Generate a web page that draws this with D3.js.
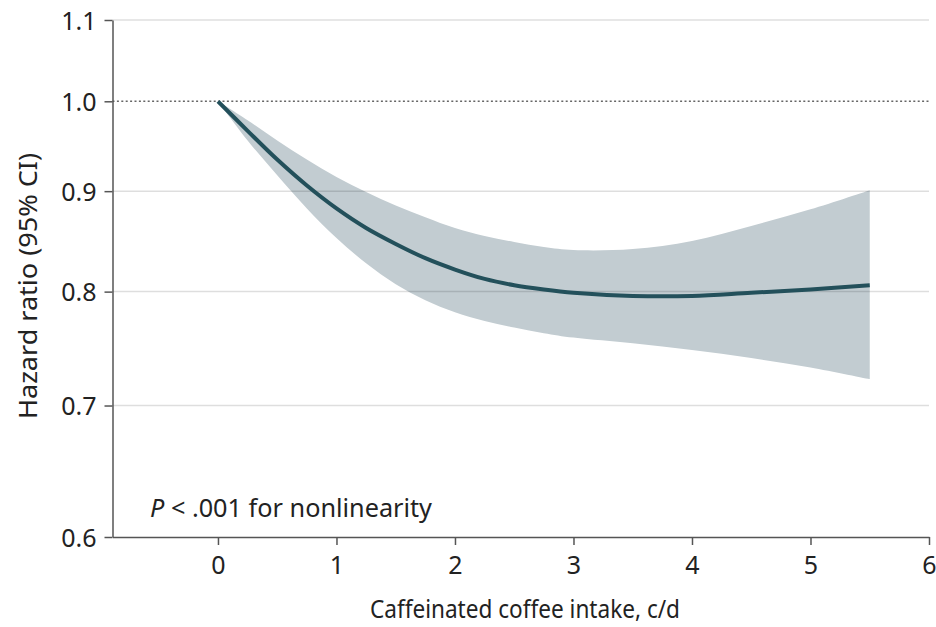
<!DOCTYPE html>
<html>
<head>
  <style>
    body { margin: 0; background: #fff; font-family: "Noto Sans", sans-serif; }
  </style>
</head>
<body>
  <svg id="chart"></svg>

  <script src="https://d3js.org/d3.v7.min.js"></script>
  <script>
    // coffee intake (cups per day) and the spline estimate with its 95% CI
    const intake = [0, 0.25, 0.5, 0.75, 1, 1.25, 1.5, 1.75, 2, 2.25, 2.5, 2.75, 3, 3.5, 4, 4.5, 5, 5.5];
    const hazard = [1.0, 0.966, 0.934, 0.906, 0.882, 0.862, 0.846, 0.832, 0.821, 0.812, 0.806, 0.802, 0.799, 0.796, 0.796, 0.799, 0.802, 0.806];
    const upper = [1.0, 0.978, 0.955, 0.934, 0.915, 0.899, 0.885, 0.873, 0.862, 0.854, 0.848, 0.843, 0.840, 0.841, 0.849, 0.864, 0.881, 0.901];
    const lower = [1.0, 0.955, 0.917, 0.882, 0.852, 0.827, 0.807, 0.792, 0.781, 0.773, 0.767, 0.762, 0.758, 0.753, 0.747, 0.740, 0.732, 0.722];

    const xTicks = [0, 1, 2, 3, 4, 5, 6];
    const yTicks = [0.6, 0.7, 0.8, 0.9, 1.0, 1.1];

    const width = 936;
    const height = 627;

    const svg = d3.select("#chart")
      .attr("width", width)
      .attr("height", height);

    const x = d3.scaleLinear().domain([-0.89, 6]).range([112.5, 929]);
    const y = d3.scaleLog().domain([0.6, 1.1]).range([537, 20]);

    const rows = intake.map((v, i) => ({ x: v, hr: hazard[i], lo: lower[i], hi: upper[i] }));
    const curve = d3.curveCatmullRom.alpha(0.5);

    // CI band
    const area = d3.area()
      .x(d => x(d.x))
      .y0(d => y(d.lo))
      .y1(d => y(d.hi))
      .curve(curve);

    svg.append("path")
      .datum(rows)
      .attr("d", area)
      .attr("fill", "#c2ccd1");

    // gridlines (on top so they show through the band)
    svg.append("g")
      .selectAll("line")
      .data(yTicks.filter(t => t !== 0.6 && t !== 1.0))
      .join("line")
      .attr("x1", x.range()[0])
      .attr("x2", x.range()[1])
      .attr("y1", d => y(d))
      .attr("y2", d => y(d))
      .attr("stroke", "#000")
      .attr("stroke-opacity", 0.13)
      .attr("stroke-width", 1.5);

    svg.append("line")
      .attr("x1", x.range()[0])
      .attr("x2", x.range()[1])
      .attr("y1", y(1))
      .attr("y2", y(1))
      .attr("stroke", "#666")
      .attr("stroke-width", 1.5)
      .attr("stroke-dasharray", "2,2.4");

    // estimate line
    const line = d3.line()
      .x(d => x(d.x))
      .y(d => y(d.hr))
      .curve(curve);

    svg.append("path")
      .datum(rows)
      .attr("d", line)
      .attr("fill", "none")
      .attr("stroke", "#23505b")
      .attr("stroke-width", 4);

    // axes
    const xAxis = svg.append("g")
      .attr("transform", `translate(0,${y(0.6)})`)
      .call(d3.axisBottom(x).tickValues(xTicks).tickFormat(d3.format("d")).tickSize(8).tickSizeOuter(0));

    const yAxis = svg.append("g")
      .attr("transform", `translate(${x.range()[0]},0)`)
      .call(d3.axisLeft(y).tickValues(yTicks).tickFormat(d3.format(".1f")).tickSize(8).tickSizeOuter(0));

    [xAxis, yAxis].forEach(g => {
      g.select(".domain").attr("stroke", "#555").attr("stroke-width", 1.5);
      g.selectAll(".tick line").attr("stroke", "#555").attr("stroke-width", 1.5);
      g.selectAll(".tick text")
        .attr("fill", "#222")
        .attr("font-family", "Noto Sans, sans-serif")
        .attr("font-size", 25);
    });
    xAxis.selectAll(".tick text").attr("y", 37).attr("dy", 0);
    yAxis.selectAll(".tick text").attr("x", -16).attr("dy", "0.36em");

    // the figure uses a narrow face: squeeze labels to its widths
    const squeeze = (sel, target) =>
      sel.attr("textLength", target).attr("lengthAdjust", "spacingAndGlyphs");

    // axis titles
    const xTitle = svg.append("text")
      .attr("x", 525)
      .attr("y", 618)
      .attr("text-anchor", "middle")
      .attr("font-size", 25)
      .attr("fill", "#222")
      .text("Caffeinated coffee intake, c/d");
    squeeze(xTitle, 310);

    const yTitle = svg.append("text")
      .attr("transform", "translate(37,286) rotate(-90)")
      .attr("text-anchor", "middle")
      .attr("font-size", 25)
      .attr("fill", "#222")
      .text("Hazard ratio (95% CI)");
    squeeze(yTitle, 266);

    // annotation
    const note = svg.append("text")
      .attr("x", 150)
      .attr("y", 517)
      .attr("font-size", 25)
      .attr("fill", "#222");
    note.append("tspan").attr("font-style", "italic").text("P");
    note.append("tspan").text(" < .001 for nonlinearity");
    squeeze(note, 282);
  </script>
</body>
</html>
